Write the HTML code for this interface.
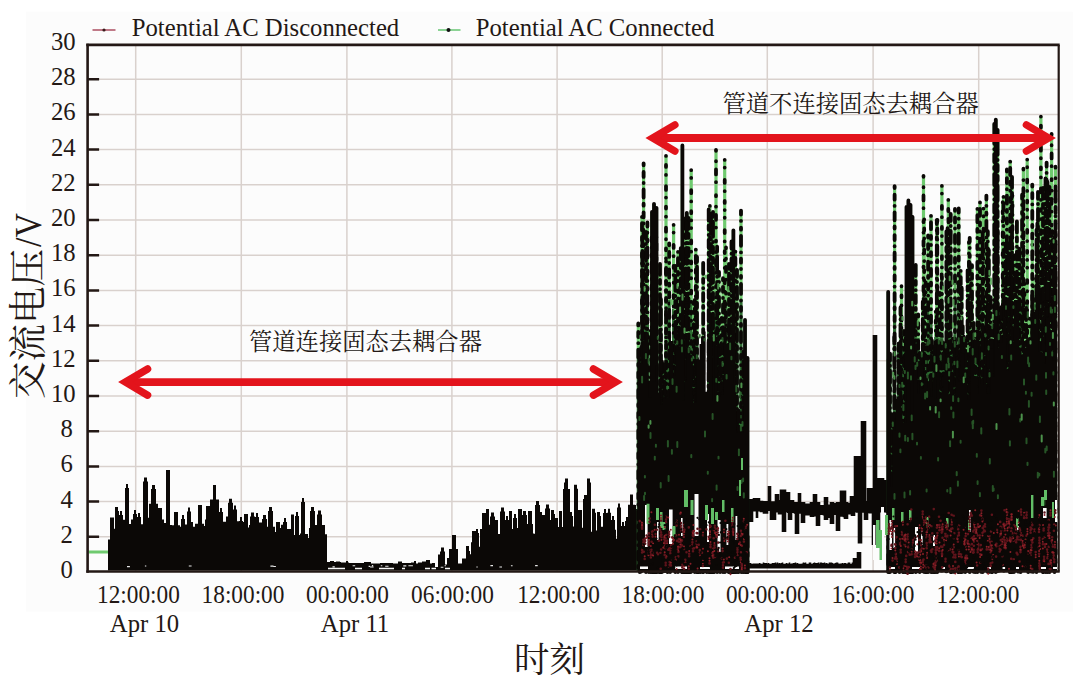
<!DOCTYPE html>
<html><head><meta charset="utf-8"><title>chart</title>
<style>
html,body{margin:0;padding:0;background:#fff;}
body{width:1080px;height:685px;overflow:hidden;}
svg{display:block;position:absolute;left:0;top:0;}
text{font-family:"Liberation Serif",serif;fill:#231815;}
text.cjk{font-family:"Liberation Serif","Noto Serif CJK SC",serif;}
</style></head><body>
<svg width="1080" height="685" viewBox="0 0 1080 685">
<rect x="25.8" y="11.7" width="1047" height="600" fill="#fcfcfc"/>
<path d="M135.7 44.9V571.5M241.3 44.9V571.5M346.9 44.9V571.5M451.9 44.9V571.5M557.1 44.9V571.5M662.2 44.9V571.5M767.3 44.9V571.5M873.1 44.9V571.5M978.7 44.9V571.5M87.6 536.8H1058.7M87.6 501.6H1058.7M87.6 466.4H1058.7M87.6 431.2H1058.7M87.6 396.0H1058.7M87.6 360.8H1058.7M87.6 325.6H1058.7M87.6 290.4H1058.7M87.6 255.2H1058.7M87.6 220.0H1058.7M87.6 184.8H1058.7M87.6 149.6H1058.7M87.6 114.4H1058.7M87.6 79.2H1058.7" stroke="#d9d1cd" stroke-width="1.5" fill="none"/>
<path d="M88.5 552H108.5" stroke="#6fca6f" stroke-width="3"/>
<path d="M108 570.6V539.4H110V517.5H114V528.8H115V507H118V511H119V515H120V511H122V515H123V519.8H125V488H126V484H128V488H129V523.9H131V519.5H133V514H134V510H136V514H137V517H138V513H140V517H141V524.3H143V481.5H144V477.5H147V481.5H148V517.8H149V503.7H151V489H152V485H155V489H156V503.7H158V508H162V519.5H164V523H166V470H170V524.9H172V525.2H174V512H178V525.2H180V526.7H181V519H182V515H184V519H185V524.5H187V511.5H188V507.5H190V511.5H191V522H193V526.7H195V523.8H198V505H202V523.8H204V526.1H205V519.4H206V506H210V499.5H213V485H216V499.5H219V512H220V508H222V512H223V521.7H226V516.4H228V502.7H229V498.7H232V502.7H233V509.5H234V505.5H236V509.5H237V521.2H239V521H240V517H242V521H243V521.9H244V514H248V527.4H249V525H250V516.5H251V512.5H254V516.5H255V517H256V513H258V517H259V522.5H262V519H263V515H266V519H267V526.7H268V511H269V507H272V511H273V526.7H275V532.1H276V522H280V528.1H281V524.7H283V522H284V518H286V522H287V528.9H291V514.5H294V535H295V516H296V512H298V516H299V535H300V533.5H301V502H302V498H304V502H305V534H308V538.1H309V528.1H310V511H311V507H314V511H315V524.9H317V514.5H318V510.5H321V514.5H322V524.9H325V534.3H327V562H330V561H334V562H336V561.5H340V562H341V562.5H346V561H348V562.5H349V563H364V562H371V563.5H380V563H393V563.5H398V561.5H402V563H411V562.5H414V561H416V563.5H418V562.5H422V561.5H426V560H430V563.5H432V563.1H435V567.1H438V554.4H440V551.5H441V547.5H444V551.5H445V564.5H447V558H449V549.1H452V535H456V549.1H458V563.6H462V558.6H466V546H469V550.9H470V554.2H471V542.3H472V531H476V529H478V533H479V546.7H480V529H482V513H486V509H489V524.8H490V516.5H491V512.5H494V516.5H495V520H498V534H500V511.5H501V507.5H504V511.5H505V520H506V516H508V520H509V511H512V528.9H513V518H514V514H516V518H517V527.9H518V509H522V515H523V511H526V515H527V523.9H528V511H532V523.9H533V533.6H534V533.8H535V505H536V501H539V505H540V512H542V515H545V508.5H546V504.5H549V508.5H550V520H551V510H554V514H555V518H558V527.1H559V511H562V527.1H563V489H564V482.5H565V478.5H568V489H570V512H572V516H573V526.6H574V484.8H577V488.8H578V510H582V527.7H583V499H584V495H587V478.5H590V482.5H591V531.7H592V508.7H595V512.7H596V530.6H597V512H600V516H601V526.7H603V513H604V509H606V513H607V512.7H608V508.7H610V512.7H611V520H612V516H614V520H615V529.7H616V538.7H617V507.6H618V503.6H620V507.6H621V526H622V522H624V526H625V521H626V517H628V504.8H630V494.4H633V504.8H635V505H636V509H637V570.6Z" fill="#0b0806"/>
<path d="M749 499V522M750 499V522M751 499V522M752 499V522M753 498.1V511.4M754 498.1V511.4M755 498.1V511.4M756 498.1V518M757 498.1V518M758 498.1V511.4M759 498.1V511.4M760 500.7V512.2M761 500.7V512.2M762 500.7V512.2M763 500.9V513.7M764 500.9V513.7M765 500.9V513.7M766 500.9V513.7M767 500.9V513.7M768 486V511M769 486V511M770 486V520M771 501.3V520M772 501.3V520M773 501.3V520M774 501.3V520M775 494V520M776 494V512.5M777 494V512.5M778 494V514.5M779 500V514.5M780 489.5V514.5M781 489.5V514.5M782 489.5V532M783 489.5V532M784 489.5V532M785 489.5V532M786 492V511.9M787 492V513M788 492V520M789 492V520M790 500V520M791 500V520M792 500V513M793 500V513M794 502V513.8M795 502V534M796 502V534M797 502V534M798 493V534M799 493V513.8M800 493V513.8M801 502V523M802 502V523M803 502V523M804 502V523M805 503.5V515.4M806 503.5V515.4M807 503.5V515.4M808 503.5V515.4M809 503.5V515.4M810 502V517M811 502V517M812 502V517M813 494V517M814 494V516.4M815 494V516.4M816 494V526M817 502V526M818 502V526M819 502V526M820 505V515M821 505V515M822 505V515M823 505V515.4M824 497V520M825 497V520M826 497V520M827 497V520M828 504.6V518.1M829 504.6V518.1M830 502V524M831 502V524M832 502V524M833 502V524M834 503.1V515.1M835 503.1V515.1M836 502V531M837 502V531M838 502V531M839 502V531M840 490.5V516.8M841 490.5V516.8M842 490.5V516.8M843 490.5V517.2M844 490.5V519M845 490.5V519M846 502V519M847 502V519M848 502.8V514.6M849 502.8V514.6M850 496V514.6M851 496V516M852 496V516M853 496V516M854 456V516M855 456V512.3M856 456V512.7M857 456V512.7M858 456V543.5M859 456V543.5M860 456V543.5M861 421V543.5M862 421V512.8M863 421V512.8M864 421V520M865 421V520M866 501V520M867 488V520M868 488V513.2M869 488V513.4M870 488V513.4M871 488V513.4M872 488V545M873 335V545M874 335V545M875 335V545M876 335V530M877 478V530M878 478V530M879 478V530M880 478V512.5M881 478V512.5M882 478V512.5M883 478V512.5M884 480V512.5M885 480V512.5M886 480V512.9M887 498.7V512.9M888 498.7V512.9M889 498.7V512.9M890 498.7V512.9" stroke="#0b0806" stroke-width="1.6" transform="translate(0.5 0)"/>
<path d="M749 563V568.6M750 563V568.6M751 563.8V568.6M752 563.8V568.6M753 563.4V568.6M754 563.4V568.6M755 563.4V568.6M756 563.4V568.6M757 563.4V568.6M758 563.8V568.6M759 563V568.6M760 563.4V568.6M761 563.8V568.6M762 563.8V568.6M763 562.5V568.6M764 563V568.6M765 563V568.6M766 563V568.6M767 563.8V568.6M768 563V568.6M769 563.8V568.6M770 563.8V568.6M771 563.8V568.6M772 563V568.6M773 563V568.6M774 563V568.6M775 562.5V568.6M776 563.4V568.6M777 562.5V568.6M778 563.4V568.6M779 563V568.6M780 563.4V568.6M781 563V568.6M782 562.5V568.6M783 563.8V568.6M784 563.8V568.6M785 563.8V568.6M786 563V568.6M787 563.4V568.6M788 563.4V568.6M789 562.5V568.6M790 563.8V568.6M791 563.4V568.6M792 563.4V568.6M793 563V568.6M794 563V568.6M795 562.5V568.6M796 563.4V568.6M797 563V568.6M798 563.8V568.6M799 563.8V568.6M800 563.8V568.6M801 563.8V568.6M802 563.4V568.6M803 562.5V568.6M804 563V568.6M805 562.5V568.6M806 563.8V568.6M807 563.8V568.6M808 563.8V568.6M809 562.5V568.6M810 562.5V568.6M811 563.8V568.6M812 563.8V568.6M813 563V568.6M814 562.5V568.6M815 563V568.6M816 563V568.6M817 563V568.6M818 562.5V568.6M819 563.8V568.6M820 562.5V568.6M821 562.5V568.6M822 563V568.6M823 563V568.6M824 562.5V568.6M825 563.4V568.6M826 563V568.6M827 563.4V568.6M828 563.8V568.6M829 562.5V568.6M830 562.5V568.6M831 562.5V568.6M832 563V568.6M833 563.8V568.6M834 563.4V568.6M835 563V568.6M836 562.5V568.6M837 562.5V568.6M838 563.4V568.6M839 563.8V568.6M840 563.4V568.6M841 563.4V568.6M842 563V568.6M843 563.8V568.6M844 563V568.6M845 563V568.6M846 563.8V568.6M847 563.4V568.6M848 562.5V568.6M849 562.5V568.6M850 563.8V568.6M851 563.8V568.6M852 562.5V568.6M853 558V568.6M854 558V568.6M855 558V568.6M856 558V568.6M857 552V568.6M858 552V568.6M859 552V568.6M860 552V568.6" stroke="#0b0806" stroke-width="1.6" transform="translate(0.5 0)"/>
<path d="M403.3 565.9h3M270.4 566.1h3.1M352.6 565.7h2.6M535.1 565.6h2.6M444.6 565.8h1.3M370.1 567h3.5M476.4 567h1.3M368.6 566.4h1.5M127 566.6h2.9M408.4 565.7h2.8M385.2 566.2h3.3M371.9 565.6h1.3M490.4 565.6h2.6M188.8 566h2.8M440.7 567.3h2.7M332.5 566.9h2.3M410.6 565.8h2.3M499.4 567h2.6M510.9 565.7h1.7M273.4 566.5h2.5M144.9 566h1.4M380.8 565.8h1.5" stroke="#e8e8e8" stroke-width="1.1"/>
<path d="M328 568.5H345M355 568.5H362M379 568.5H394M402 568.5H405M425 568.5H430M431.5 568.5H436M445 568.5H450" stroke="#f6f6f6" stroke-width="1.5"/>
<path d="M643.6 300V572M642 300V572M646 307.7V572M654 300V572M652 311.3V572M656.5 302.5V572M666 300V572M673.6 308.4V572M682.4 300V572M691.2 300V572M686.8 302.6V572M688.5 300V572M703.2 346.6V572M708.7 300V572M711 320.9V572M713 311.4V572M716 300V572M724.7 300V572M733.4 333.7V572M741 300V572M660 350.1V572M678 315.5V572M697 345.2V572M729 344.4V572M737 342.4V572M745 356.5V572M747.5 358V572M638.3 349.9V572M639.7 400.6V572M641.1 348.1V572M642.4 316.7V572M644 344.7V572M645.6 346.4V572M647.4 317.8V572M648.9 382.5V572M650.8 347.3V572M651.7 341.7V572M653.7 444.8V572M654.9 333.9V572M656.4 300V572M657.8 433.6V572M658.9 414.7V572M660.9 330V572M662 361.9V572M663.3 434.3V572M664.3 364.7V572M666.1 353.9V572M667.5 440.8V572M669.2 300V572M670.1 407.2V572M671.3 404V572M673.3 348.4V572M675.3 327.7V572M676.5 343.9V572M677.7 349.4V572M679 341.6V572M680.8 337.8V572M681.9 418.3V572M683.6 342.9V572M684.7 431.6V572M685.7 300V572M687.6 350.3V572M689 413.3V572M690.1 368V572M691.5 360.4V572M692.7 413.7V572M693.7 331.8V572M694.8 336.4V572M695.8 314.7V572M697.4 368.5V572M699 418.8V572M700.6 425.1V572M702.1 373V572M703 354.8V572M704.8 414.7V572M706.7 402.3V572M708.6 347.7V572M709.9 300V572M711.5 444.6V572M712.8 377.1V572M714.2 355.7V572M715.1 347.1V572M717.1 313.9V572M719 323.3V572M720.1 356.5V572M721.7 353V572M723 338.6V572M724.9 335V572M726 306.4V572M727.7 424.3V572M728.7 338.7V572M730.1 351.5V572M731.5 318.5V572M732.4 391V572M734 366.9V572M735.4 318.9V572M737.2 438.3V572M738.6 410.8V572M740.5 432.9V572M741.7 454.9V572M743.4 351.9V572M744.9 531.7V572M746.2 509V572M747.6 536.5V572" stroke="#2e6e33" stroke-width="3.2" fill="none"/>
<path d="M643.6 163.5V300M642 217V300M646 232V307.7M654 204V300M652 212V311.3M656.5 208V302.5M666 156V300M673.6 225V308.4M682.4 145.6V300M691.2 170.3V300M686.8 213V302.6M688.5 218V300M703.2 263V346.6M708.7 209.7V300M711 214V320.9M713 212V311.4M716 150V300M724.7 160V300M733.4 230.5V333.7M741 210.8V300M660 264V350.1M678 252V315.5M697 257V345.2M729 264V344.4M737 270V342.4M745 320V356.5M638.3 323.6V349.9M642.4 241.2V316.7M647.4 222.7V317.8M650.8 330.8V347.3M651.7 237.5V341.7M654.9 269.9V333.9M656.4 237.4V300M660.9 299.4V330M666.1 261.7V353.9M669.2 243.5V300M675.3 266.1V327.7M676.5 281.1V343.9M679 321.1V341.6M680.8 248.3V337.8M683.6 257.3V342.9M685.7 218.3V300M687.6 276.7V350.3M693.7 304.1V331.8M694.8 300.2V336.4M695.8 249.8V314.7M703 337.7V354.8M708.6 342.4V347.7M709.9 206.1V300M714.2 334V355.7M717.1 246.8V313.9M719 272V323.3M720.1 349.9V356.5M721.7 318V353M723 278.4V338.6M724.9 303.2V335M726 247.5V306.4M728.7 327.7V338.7M730.1 340.4V351.5M731.5 241.7V318.5M735.4 251.8V318.9" stroke="#6fca6f" stroke-width="3.2" fill="none"/>
<path d="M666 155.8V572" stroke="#0b0806" stroke-width="3.7" stroke-linecap="round" stroke-dasharray="0.1 9 2 8 0.1 11 4 7.5" fill="none"/>
<path d="M673.6 224.8V572M691.2 170.1V572M724.7 159.8V572M676.5 280.9V572M693.7 303.9V572M709.9 205.9V572" stroke="#0b0806" stroke-width="3.7" stroke-linecap="round" stroke-dasharray="0.1 7.6 0.1 12.3 3 8.2 0.1 9.7 2 7.1" fill="none"/>
<path d="M716 149.8V572M654.9 269.7V572M726 247.3V572" stroke="#0b0806" stroke-width="3.7" stroke-linecap="round" stroke-dasharray="1 10.4 0.1 8.1 5 7.7 0.1 13" fill="none"/>
<path d="M643.6 163.3V572M638.3 323.4V572M645.6 346.2V572M657.8 433.4V572M669.2 243.3V572M673.3 348.2V572M694.8 300V572M723 278.2V572M746.2 508.8V572" stroke="#0b0806" stroke-width="3.8" stroke-linecap="round" stroke-dasharray="2 6.6 5 6.1 0.1 6.4 8 6.2" fill="none"/>
<path d="M642 216.8V572M678 251.8V572M650.8 330.6V572M656.4 237.2V572M666.1 261.5V572M679 320.9V572M691.5 360.2V572M695.8 249.6V572M735.4 251.6V572" stroke="#0b0806" stroke-width="3.8" stroke-linecap="round" stroke-dasharray="0.1 6.3 7 6.7 3 6 0.1 7.1 4 6.4" fill="none"/>
<path d="M741 210.6V572M647.4 222.5V572M651.7 237.3V572M663.3 434.1V572M687.6 276.5V572M692.7 413.5V572M700.6 424.9V572M702.1 372.8V572M706.7 402.1V572M719 271.8V572M721.7 317.8V572M724.9 303V572M728.7 327.5V572M737.2 438.1V572" stroke="#0b0806" stroke-width="3.8" stroke-linecap="round" stroke-dasharray="4 6.2 0.1 6.8 2 6.1 10 6.5 0.1 6.3" fill="none"/>
<path d="M646 231.8V572M737 269.8V572M641.1 347.9V572M644 344.5V572M664.3 364.5V572M667.5 440.6V572M671.3 403.8V572M677.7 349.2V572M681.9 418.1V572M683.6 257.1V572M697.4 368.3V572M699 418.6V572M704.8 414.5V572M712.8 376.9V572M715.1 346.9V572M731.5 241.5V572M734 366.7V572M744.9 531.5V572" stroke="#0b0806" stroke-width="3.8" stroke-linecap="round" stroke-dasharray="7 5.1 0.1 4.9 12 5.2 3 5" fill="none"/>
<path d="M688.5 217.8V572M703.2 262.8V572M708.7 209.5V572M711 213.8V572M660 263.8V572M658.9 414.5V572M662 361.7V572M680.8 248.1V572M685.7 218.1V572M690.1 367.8V572M708.6 342.2V572M727.7 424.1V572M732.4 390.8V572M738.6 410.6V572M740.5 432.7V572M747.6 536.3V572" stroke="#0b0806" stroke-width="3.8" stroke-linecap="round" stroke-dasharray="11 5 4 5.3 0.1 4.9 8 4.8 2 5.2" fill="none"/>
<path d="M686.8 212.8V572M713 211.8V572M697 256.8V572M729 263.8V572M642.4 241V572M653.7 444.6V572M660.9 299.2V572M675.3 265.9V572M703 337.5V572M711.5 444.4V572M717.1 246.6V572M720.1 349.7V572M743.4 351.7V572" stroke="#0b0806" stroke-width="3.8" stroke-linecap="round" stroke-dasharray="5 4.9 15 5.2 0.1 5 6 4.8" fill="none"/>
<path d="M654 203.8V572M652 211.8V572M656.5 207.8V572M682.4 145.4V572M733.4 230.3V572M745 319.8V572M747.5 357.8V572M639.7 400.4V572M648.9 382.3V572M670.1 407V572M684.7 431.4V572M689 413.1V572M714.2 333.8V572M730.1 340.2V572M741.7 454.7V572" stroke="#0b0806" stroke-width="3.8" stroke-linecap="round" fill="none"/>
<path d="M637.5 570.6V350H640.2V364H642.1V340.6H645.3V332.6H648.6V397.7H652V381.4H655.7V365.8H657.9V392.5H660.3V404.7H662.4V398.5H665.2V398.1H669.1V332.3H670.9V340.9H673.2V375.6H675.4V346.9H679.2V331.4H682V400.8H684.1V381.5H686.8V334.9H688.6V354.4H692.5V402.5H696.1V359.4H699.5V344H701.4V336.7H704V331.6H705.6V391.7H709.2V331H712.1V401H714.6V345.3H717.8V396.8H720.8V394.5H723.8V339H726.3V343.8H730V369H733.1V383.1H736.1V432.2H739.5V432.5H743.4V404.6H745.5V446H748.2V436H748.5V570.6Z" fill="#0b0806"/>
<path d="M705 431.4v5.1M738.9 449.6v5.7M642.1 376.7v5.7M707.8 471.7v2M688.7 348.3v3.9M699.8 335.1v2.5M668.6 476v4.9M655.9 444.7v2.1M704.4 339v1.5M731.4 356.8v2.5M743.1 478.4v2.8M740.9 425.9v4.6M660.7 482.9v4.6M741.5 480.3v2.8M677.3 341.5v2.2M645.9 354v4.2M639.4 417v3M671.9 450.1v3.7M672.5 379.2v4.7M645 492.7v1.6M718.5 456.8v1.6M722.5 362v4.1M640 335.7v2.3M740.2 392.3v4.9M737.5 487v3M676.6 386.7v5M650.5 432.9v5.1M730.1 343.4v5.8M648.7 358.8v4.2M736.3 385.7v5.7M696.8 355.3v2.9M657.8 336.7v2.2M712.1 499v2.2M644.1 496.1v3.9M682 347.4v4.2M726.6 375.1v3.4M644.9 475.9v1.6M691.3 455.1v2.1M716.6 485.4v4.3M722.5 337.9v3.5M654.8 456.8v2.8M687 499.8v5.3M742.5 422v3.7M716.3 378.9v2.8M681.8 340.2v3.2M743.8 493.2v4.3M691.9 358.5v1.9M667.9 441v5.4M677.3 442v5M712.6 414v4.9" stroke="#2b622d" stroke-width="2" stroke-linecap="round" fill="none" opacity="0.85"/>
<path d="M648.6 425.6v2.2M717.4 395.9v4.9M671 300.1v4.7M741.4 383.4v3.9M680.1 307.5v4.7M684.5 328.4v4.3M706 275.5v2.5M713.8 335.1v5.3M644.6 286.9v3.8M718.2 283.7v4.9M682.5 294.5v5.2M650.4 420.9v2.9M677.4 284.4v3.6M728.3 286.9v4" stroke="#58aa58" stroke-width="2" stroke-linecap="round" fill="none" opacity="0.85"/>
<path d="M645 505h2.6V547h-2.6ZM669 509.5h3.6V544h-3.6ZM694.5 494h4V536h-4ZM657 522h1.6V540h-1.6ZM681 518h1.6V536h-1.6ZM707 514h2V542h-2ZM717.5 520h3V552h-3ZM726.5 524h1.8V545h-1.8ZM735.5 516h1.8V540h-1.8ZM640 566.5h8V569h-8ZM675 566.5h12V569h-12ZM700 567h10V569h-10ZM725 566.5h14V569h-14Z" fill="#fcfcfc"/>
<path d="M646.5 503.7h3V523.8h-3ZM656 508h3V520h-3ZM660 512h2.5V528h-2.5ZM684 490h4V507h-4ZM690.5 500h3V515h-3ZM662.5 522h3V530h-3ZM672.5 526h3V537h-3ZM705 505h3V520h-3ZM711 508h3V524h-3ZM715 512h3V520h-3ZM722 500h2.5V512h-2.5ZM731 508h2.5V522h-2.5ZM739 480h2V496h-2ZM741 458h2V470h-2Z" fill="#62bd66"/>
<path d="M639.8 521.1h0M642.1 523.5h0M642.1 526.1h0M642.1 528.7h0M651.4 549.7h0M651.4 552.3h0M678.3 556.4h0M710.7 526.2h0M660.7 568.8h0M718.1 542.6h0M667.2 540.7h0M744.9 568.2h0M740.5 557.7h0M669.5 548.3h0M660.6 536.1h0M660.4 552.7h0M692.8 535.6h0M702.9 566h0M721.9 558.6h0M702 552.8h0M741.7 564h0M741.7 566.6h0M693.4 531h0M693.4 536.2h0M661.1 549.5h0M642.1 549.9h0M642.1 552.5h0M715 527.5h0M715 530.1h0M715 532.7h0M676.2 535.2h0M665.6 538.2h0M665.6 540.8h0M665.6 543.4h0M684 529.9h0M668.2 549.7h0M697.5 528.8h0M737.3 533.7h0M737.3 538.9h0M643.8 551.8h0M645.2 538.5h0M645.2 541.1h0M645.2 543.7h0M643.4 539.8h0M643.4 542.4h0M643.4 545h0M689.2 553.7h0M689.2 556.3h0M684.1 563.9h0M684.1 569.1h0M682.3 564.8h0M682.3 567.4h0M652.1 531.8h0M723 562.6h0M723 565.2h0M723 567.8h0M672.3 537.4h0M648.8 539.9h0M648.8 542.5h0M648.8 545.1h0M655.5 534.1h0M651.6 541.7h0M703 535.2h0M697.6 571.2h0M656.8 529.8h0M743.9 541.6h0M660.3 529.8h0M737.3 547.5h0M726.9 558.6h0M678.9 539.1h0M678.9 541.7h0M649 533.4h0M697.6 533.2h0M665.7 562.7h0M665.7 565.3h0M746.7 552.3h0M669.1 531.7h0M669.1 534.3h0M669.1 536.9h0M663.9 545.8h0M716.6 536.9h0M696.7 541.3h0M696.7 543.9h0M741.9 565.3h0M741.9 570.5h0M664.7 554.9h0M648 537.3h0M713.2 555h0M713.2 557.6h0M682 540.2h0M682 542.8h0M682 545.4h0M680.4 547.1h0M742 535.4h0M666.1 516.9h0M666.1 519.5h0M666.1 522.1h0M649.6 518.5h0M700.2 529.2h0M646.6 535.5h0M730.5 569h0M730.5 571.6h0M728.8 562.7h0M681.3 528.5h0M681.3 531.1h0M670.3 550.6h0M670.3 553.2h0M654.9 524.7h0M675.8 557.2h0M675.8 559.8h0M733.1 531.3h0M713 548.9h0M710.1 537.2h0M671.1 545.2h0M671.1 547.8h0M677 540.9h0M728.1 534h0M728.1 536.6h0M709.5 563.4h0M714.9 525.7h0M714.9 528.3h0M737.7 534h0M680.4 541.8h0M648.9 536.8h0M733 528.8h0M733 531.4h0M708.5 536.7h0M718.2 548.6h0M718.2 551.2h0M727.9 539h0M712.4 553.1h0M724.3 538.3h0M665.1 548.2h0M692.4 542.2h0M692.4 544.8h0M669.7 562.1h0M669.7 564.7h0M666 557.4h0M658.8 540.7h0M644.7 558.9h0M737.5 549.7h0M737.5 552.3h0M737.5 554.9h0M664.7 538.4h0M664.7 541h0M648.4 550.1h0M676.6 571.5h0M652.6 552.7h0M715.3 527.9h0M725.4 520.8h0M648.8 538h0M648.8 540.6h0M648.8 543.2h0M666.2 534.7h0M717.7 530h0M717.7 532.6h0M740.9 552.3h0M680.3 513.6h0M649.5 521.7h0M676.6 523h0M676.6 525.6h0M693 548.6h0M693 551.2h0M743.8 521.3h0M723.8 562.2h0M722.6 551.1h0M740.8 559.7h0M670.9 565.4h0M714.6 547.6h0M661.5 534.7h0M661.5 537.3h0M688.8 568.8h0M661 532.4h0M661 535h0M709.9 525.5h0M709.9 530.7h0M698.7 544.8h0M661 520.6h0M664.3 539.5h0M664.3 542.1h0M652.6 531.4h0M652.6 536.6h0M685.3 559.9h0M685.3 562.5h0M688.8 527.4h0M714.5 545.3h0M681 523.1h0M681 525.7h0M681 528.3h0M741.9 545.8h0M740.9 530.7h0M740.9 535.9h0M692.9 531.9h0M692.9 534.5h0M745.9 526.6h0M745.9 529.2h0M694.1 548.3h0M715 556.9h0M658 554.2h0M684 549h0M739.9 542.6h0M699.8 550h0M699.8 552.6h0M733.3 529.7h0M713.7 538.3h0M673 541.2h0M684.5 529.8h0M678 549.4h0M715.5 529.1h0M715.5 531.7h0M735 557.8h0M696.6 533.1h0M725.9 538.4h0M732.4 522.8h0M732.4 525.4h0M717.9 528.5h0M706.4 529.4h0M657.1 552.8h0M642 527.5h0M683.8 537h0M686.5 552.3h0M650.8 552.3h0M650.8 554.9h0M650.8 557.5h0M710.5 544.5h0M710.5 547.1h0M678.4 546.8h0M678.4 549.4h0M678.4 552h0" stroke="#5f141b" stroke-width="2.6" stroke-linecap="round" fill="none"/>
<path d="M650.8 545.9h0M696.4 547.4h0M667.2 543.3h0M667.2 545.9h0M744.9 565.6h0M738.9 544.1h0M651.4 512.3h0M692.8 533h0M702.9 560.8h0M702.9 563.4h0M732.8 517.8h0M741.7 569.2h0M693.4 533.6h0M679 534.7h0M713.7 530.3h0M716 532.1h0M716 534.7h0M684 524.7h0M684 527.3h0M682.5 531.9h0M737.3 536.3h0M680.8 540.2h0M742.6 534.1h0M690.1 545.9h0M728.7 534.5h0M689.2 551.1h0M684.1 566.5h0M724 529.6h0M724 532.2h0M652.1 534.4h0M666.8 555.7h0M655.5 536.7h0M703 532.6h0M697.6 568.6h0M743.9 539h0M660.3 527.2h0M653.3 555.6h0M703 548.8h0M664.8 527.2h0M663.9 543.2h0M696.7 546.5h0M741.9 567.9h0M664.7 552.3h0M668.4 566.8h0M646.6 538.1h0M678.8 550.6h0M730.5 574.2h0M663.2 547.8h0M654.6 529.8h0M653.1 543.6h0M733.1 533.9h0M713 551.5h0M710.1 532h0M710.1 534.6h0M728.1 531.4h0M709.5 558.2h0M709.5 560.8h0M728.8 531.7h0M680.4 539.2h0M680.4 544.4h0M648.9 539.4h0M694.2 530.8h0M717.1 535.1h0M727.9 541.6h0M693.4 525.1h0M712.4 555.7h0M724.3 540.9h0M729.2 557.3h0M692.4 539.6h0M644.7 556.3h0M670.8 529.7h0M714.3 550.9h0M664.7 535.8h0M648.4 552.7h0M648.4 555.3h0M676.6 568.9h0M652.6 555.3h0M715.3 530.5h0M715.3 533.1h0M708.3 538.9h0M684.3 532.1h0M717.7 527.4h0M697.3 547.6h0M680.8 512.4h0M676.6 520.4h0M707.9 551.3h0M743.8 518.7h0M723.8 559.6h0M722.6 548.5h0M740.8 562.3h0M668.2 517.6h0M670.9 560.2h0M670.9 562.8h0M661.5 539.9h0M688.8 566.2h0M709.9 528.1h0M661 515.4h0M661 518h0M664.3 536.9h0M747.2 524.7h0M652.6 534h0M714.4 542.9h0M740.9 533.3h0M684 546.4h0M690.5 563.8h0M699.8 555.2h0M733.3 532.3h0M733.3 534.9h0M673 538.6h0M673 543.8h0M678 546.8h0M712.9 551.5h0M674 540h0M732.4 520.2h0M740.7 545.1h0M642 522.3h0M642 524.9h0M683.8 534.4h0M710.5 541.9h0" stroke="#8c2028" stroke-width="2.0" stroke-linecap="round" fill="none"/>
<path d="M693.9 545.2h0M643.5 532h0M686.5 564.3h0M744.6 521.6h0M685 526.9h0M683.6 548.4h0M718.7 547.8h0M706.3 548h0M658.4 526.9h0M692.4 520.8h0M679.9 549.8h0M733.8 568.2h0M701.3 524.5h0M700.7 552.7h0M662.3 560.5h0M659.4 551h0M741.9 561.7h0M720.8 532.3h0M683.8 563.8h0M692 527.7h0M675.4 520.8h0M742.8 536.9h0M691 520.2h0M706.6 525.2h0M660.6 557.5h0M691.2 546.3h0M668 520.9h0M674.8 537.1h0M735.9 554.6h0M688.5 545.9h0M715.3 556.2h0M721.2 532h0M681.5 532h0M679.6 560.3h0M687.5 519.4h0M718.9 534.9h0M716.1 565h0M736.9 546.5h0M640.3 564.7h0M643.8 544.4h0M642.4 520.6h0M732.1 552.7h0M705.6 526.7h0M665.4 532.8h0M726.4 529.2h0M702.2 561.8h0M648.9 538.2h0M665.6 547.7h0M674.3 567.5h0M674.5 562.2h0M682.5 543.1h0M720 555.3h0M710.3 529.2h0M687.9 520.9h0M662.6 541.3h0M735.5 562.5h0M667.4 554.8h0M745.9 553.1h0M732.9 540.6h0M726.1 549.2h0M697.7 541.1h0M702.5 543.7h0M699.3 519.3h0M716.7 526.7h0M650.5 564.2h0M728.9 559.1h0M684.9 525h0M679.5 523.6h0M687.1 530.2h0M685.4 564.2h0M741.3 525.1h0M703.6 562.2h0M745.3 545.4h0M720.5 523h0M671.3 555.4h0M734.3 524h0M732.2 561.3h0M648.3 549.9h0M670.8 560.2h0M680.2 564.1h0M716.1 530.7h0M692.1 546.6h0M683.7 561h0M652.8 563.5h0M739.8 533.2h0M712.5 550.1h0M737.6 526h0M731.7 556.3h0M720.1 542.5h0M697.5 517.8h0M652.4 552.7h0M736.4 557.5h0M653.4 533.7h0M700.6 541.9h0M729.2 552.5h0M735.9 562.6h0M722.3 558.6h0M742 527.8h0M684.9 564.7h0M674.7 535.3h0M648.4 552.2h0M733.1 526.7h0M664.6 525.2h0M729.7 528h0M734.9 566.8h0M709.5 566.2h0M734 543.2h0M702.4 524.3h0M736.2 565.9h0M649.8 528.1h0M648.8 553.7h0M665 517h0M746.1 529.9h0M698.6 554.7h0M738.9 517.5h0M650.5 535.4h0M704.6 559.8h0M735.2 564.3h0M713.8 529.4h0M734.2 552.3h0M704.8 531.3h0M667.9 566.6h0M697.1 542.9h0M665.1 530.3h0M655 556.1h0M704.7 535.2h0M671.6 546.9h0M675.2 561.1h0M744.8 537.9h0M725.2 537.9h0M747.4 532.9h0M718.1 549.8h0M744.6 525.4h0M666.3 545.4h0M727.9 552.3h0M662.9 544.9h0M726.5 563.7h0M703.8 543.3h0M668 546.2h0M676.9 557.6h0M736.5 559.4h0M653 564.2h0M641.6 562h0M666.2 524.9h0M656.5 538.6h0M708.8 522.3h0M643 534.1h0M701.3 531.3h0M659.3 524.4h0M657.9 567.9h0M703.3 520h0M727.4 537.3h0M707.2 543.7h0M652.9 545.1h0M676.6 565.4h0M681.2 529.3h0M676.6 523.4h0M643 547.9h0M739.1 553.7h0M675.8 520.4h0" stroke="#0b0806" stroke-width="2.2" stroke-linecap="round" fill="none"/>
<path d="M888.2 358.4V572M894.6 300V572M906.5 300V572M908.4 300V572M910.5 300V572M912.5 300V572M923.5 300V572M931 322.7V572M937.3 300V572M941.9 300V572M948.3 300V572M955 300V572M958.7 300V572M969.7 316.2V572M977.4 300V572M983.5 305.5V572M994.3 300V572M995.8 300V572M997.6 300V572M1003.5 300V572M1010.2 300V572M1012 300V572M1023.4 300V572M1032.3 300V572M1040.9 300V572M1045.5 300V572M1047.5 300V572M1051.6 300V572M1055.5 300V572M1043 300V572M1038 300V572M1049.5 300V572M888.3 529.6V572M889.1 381.1V572M890 353.8V572M891.5 499.7V572M892.7 414.5V572M894.3 351.5V572M895.7 427.9V572M897.1 478V572M898.5 351.9V572M899.5 381.7V572M900.5 345.7V572M901.5 331.3V572M902.9 467.5V572M904 348.5V572M905.7 338.4V572M906.6 406.4V572M907.6 357.1V572M908.5 355.9V572M909.4 358.8V572M910.9 456.9V572M912.2 459.8V572M913 391.1V572M913.9 334.3V572M915.7 326.8V572M917.1 365.1V572M918.2 337.6V572M919.7 353V572M921.4 356.9V572M922.8 359.8V572M924.2 310.9V572M925.6 348.7V572M926.7 418.3V572M928.1 308.2V572M929.7 430.2V572M930.9 363V572M931.9 340.7V572M933.5 418.5V572M934.8 346.3V572M935.7 336.4V572M936.8 312.7V572M938.3 347.7V572M939.8 347.4V572M941.6 344.4V572M943.3 357.6V572M944.6 350.7V572M946.4 300V572M947.6 300V572M948.5 310.1V572M949.5 429.2V572M950.7 316.9V572M951.7 373.5V572M952.9 338.8V572M954.3 345.7V572M956.1 396.2V572M957 346.5V572M958.3 347.3V572M959.9 358.8V572M960.7 322.9V572M961.7 351.7V572M962.7 358.8V572M963.9 336.9V572M965.2 351.6V572M966.3 422.7V572M967.6 334.8V572M968.9 326V572M969.8 357.6V572M971.2 347.3V572M972 333.5V572M973.6 356.9V572M975.3 350.4V572M977 425.1V572M978.8 347.5V572M980 300V572M981.2 410.2V572M982.7 300V572M984.3 335.1V572M985.5 351.1V572M986.4 300V572M987.8 323.8V572M988.8 300V572M990.6 345.3V572M991.4 350V572M992.3 342.4V572M994.1 358.9V572M995 357.4V572M996.7 300V572M997.6 310.2V572M999.4 356.4V572M1001.1 345.7V572M1002.7 300V572M1004.2 359.2V572M1005.6 328.9V572M1006.9 300V572M1008.5 306.3V572M1009.8 383.7V572M1010.7 300V572M1011.5 300V572M1012.5 300V572M1013.9 323.2V572M1015.2 349.8V572M1016.9 300V572M1018.4 382.7V572M1019.3 300V572M1020.6 392.2V572M1022.1 300V572M1023.4 300V572M1024.5 350.3V572M1026.1 346.7V572M1027.2 300V572M1028.2 349.8V572M1029.5 349.5V572M1031.1 361.8V572M1032.3 345.5V572M1033.1 345.4V572M1033.9 345.7V572M1034.8 336.3V572M1036.5 309.4V572M1037.4 309.3V572M1038.8 346.8V572M1040.2 370.3V572M1041.6 331.9V572M1043.2 354.9V572M1044.1 326.2V572M1045.7 338.8V572M1046.6 300V572M1047.9 346.9V572M1049.5 317.3V572M1051.3 355.4V572M1052.5 300V572M1053.7 336.1V572M1054.5 308.4V572M1055.5 300V572" stroke="#2e6e33" stroke-width="3.2" fill="none"/>
<path d="M888.2 292V358.4M894.6 186.3V300M906.5 207V300M908.4 200.7V300M910.5 205V300M912.5 217V300M923.5 176V300M931 216V322.7M937.3 220V300M941.9 186V300M948.3 200V300M955 209V300M958.7 208.7V300M969.7 238V316.2M977.4 209V300M983.5 208.7V305.5M994.3 124V300M995.8 119.8V300M997.6 130V300M1003.5 197V300M1010.2 161.8V300M1012 177V300M1023.4 168.8V300M1032.3 184.8V300M1040.9 116.7V300M1045.5 178.6V300M1047.5 182V300M1051.6 134V300M1055.5 191V300M1043 188V300M1038 192V300M1049.5 187V300M894.3 337V351.5M898.5 343.9V351.9M900.5 307.6V345.7M901.5 286.4V331.3M904 331V348.5M907.6 354.8V357.1M908.5 314.8V355.9M909.4 315.1V358.8M913.9 320.7V334.3M915.7 265V326.8M918.2 314.7V337.6M922.8 301.9V359.8M924.2 219.5V310.9M925.6 282.3V348.7M928.1 235.7V308.2M935.7 311.8V336.4M936.8 220.3V312.7M938.3 343.4V347.7M939.8 293.2V347.4M941.6 274.5V344.4M943.3 343.4V357.6M944.6 343.4V350.7M946.4 231.5V300M947.6 228.3V300M948.5 211.4V310.1M950.7 214.1V316.9M959.9 326V358.8M960.7 271V322.9M961.7 287.9V351.7M962.7 326.6V358.8M965.2 340.9V351.6M967.6 270.5V334.8M968.9 242.2V326M969.8 349.8V357.6M971.2 283.3V347.3M972 265.4V333.5M973.6 323.2V356.9M975.3 332V350.4M978.8 287.5V347.5M980 202.6V300M982.7 233V300M984.3 297.2V335.1M985.5 342.8V351.1M986.4 195.8V300M987.8 231.4V323.8M988.8 250.1V300M990.6 297.3V345.3M992.3 330.7V342.4M994.1 321.4V358.9M995 347.8V357.4M996.7 180.5V300M997.6 230.5V310.2M999.4 308.6V356.4M1001.1 307.4V345.7M1002.7 202.4V300M1005.6 244.5V328.9M1006.9 169.7V300M1008.5 243.5V306.3M1010.7 237.7V300M1011.5 198.5V300M1012.5 195.9V300M1013.9 255.4V323.2M1015.2 277.3V349.8M1016.9 221.6V300M1019.3 248.8V300M1022.1 194.9V300M1023.4 196.1V300M1024.5 284.1V350.3M1026.1 308.1V346.7M1027.2 159.7V300M1029.5 318.9V349.5M1032.3 295.5V345.5M1033.1 278.7V345.4M1034.8 313.6V336.3M1036.5 230V309.4M1037.4 223.5V309.3M1038.8 286.9V346.8M1041.6 243V331.9M1044.1 259.5V326.2M1045.7 300.8V338.8M1046.6 162.8V300M1049.5 265.8V317.3M1051.3 306.9V355.4M1052.5 231.4V300M1053.7 273.6V336.1M1054.5 237.4V308.4M1055.5 166.9V300" stroke="#6fca6f" stroke-width="3.2" fill="none"/>
<path d="M948.3 199.8V572M1040.9 116.5V572M901.5 286.2V572M924.2 219.3V572M935.7 311.6V572M948.5 211.2V572M984.3 297V572M1002.7 202.2V572M1012.5 195.7V572M1024.5 283.9V572" stroke="#0b0806" stroke-width="3.7" stroke-linecap="round" stroke-dasharray="0.1 9 2 8 0.1 11 4 7.5" fill="none"/>
<path d="M941.9 185.8V572M983.5 208.5V572M1011.5 198.3V572M1027.2 159.5V572M1029.5 318.7V572M1033.1 278.5V572M1044.1 259.3V572" stroke="#0b0806" stroke-width="3.7" stroke-linecap="round" stroke-dasharray="0.1 7.6 0.1 12.3 3 8.2 0.1 9.7 2 7.1" fill="none"/>
<path d="M923.5 175.8V572M1023.4 168.6V572M1051.6 133.8V572M908.5 314.6V572M968.9 242V572M1055.5 166.7V572" stroke="#0b0806" stroke-width="3.7" stroke-linecap="round" stroke-dasharray="1 10.4 0.1 8.1 5 7.7 0.1 13" fill="none"/>
<path d="M894.6 186.1V572M937.3 219.8V572M955 208.8V572M1032.3 184.6V572M909.4 314.9V572M910.9 456.7V572M918.2 314.5V572M928.1 235.5V572M939.8 293V572M941.6 274.3V572M949.5 429V572M971.2 283.1V572M972 265.2V572M995 347.6V572M999.4 308.4V572M1006.9 169.5V572M1045.7 300.6V572M1047.9 346.7V572M1049.5 265.6V572M1051.3 306.7V572M1052.5 231.2V572" stroke="#0b0806" stroke-width="3.8" stroke-linecap="round" stroke-dasharray="2 6.6 5 6.1 0.1 6.4 8 6.2" fill="none"/>
<path d="M931 215.8V572M977.4 208.8V572M1003.5 196.8V572M1010.2 161.6V572M913 390.9V572M913.9 320.5V572M952.9 338.6V572M954.3 345.5V572M956.1 396V572M958.3 347.1V572M960.7 270.8V572M980 202.4V572M994.1 321.2V572M1020.6 392V572M1023.4 195.9V572M1031.1 361.6V572M1041.6 242.8V572" stroke="#0b0806" stroke-width="3.8" stroke-linecap="round" stroke-dasharray="0.1 6.3 7 6.7 3 6 0.1 7.1 4 6.4" fill="none"/>
<path d="M958.7 208.5V572M969.7 237.8V572M888.3 529.4V572M904 330.8V572M925.6 282.1V572M936.8 220.1V572M947.6 228.1V572M959.9 325.8V572M966.3 422.5V572M986.4 195.6V572M987.8 231.2V572M997.6 230.3V572M1004.2 359V572M1013.9 255.2V572M1015.2 277.1V572M1022.1 194.7V572M1046.6 162.6V572" stroke="#0b0806" stroke-width="3.8" stroke-linecap="round" stroke-dasharray="4 6.2 0.1 6.8 2 6.1 10 6.5 0.1 6.3" fill="none"/>
<path d="M1038 191.8V572M1049.5 186.8V572M889.1 380.9V572M890 353.6V572M892.7 414.3V572M894.3 336.8V572M895.7 427.7V572M897.1 477.8V572M898.5 343.7V572M899.5 381.5V572M900.5 307.4V572M912.2 459.6V572M917.1 364.9V572M922.8 301.7V572M929.7 430V572M930.9 362.8V572M931.9 340.5V572M950.7 213.9V572M957 346.3V572M962.7 326.4V572M973.6 323V572M996.7 180.3V572M1005.6 244.3V572M1009.8 383.5V572M1026.1 307.9V572M1033.9 345.5V572M1037.4 223.3V572M1040.2 370.1V572" stroke="#0b0806" stroke-width="3.8" stroke-linecap="round" stroke-dasharray="7 5.1 0.1 4.9 12 5.2 3 5" fill="none"/>
<path d="M994.3 123.8V572M1012 176.8V572M1045.5 178.4V572M1055.5 190.8V572M1043 187.8V572M891.5 499.5V572M905.7 338.2V572M915.7 264.8V572M938.3 343.2V572M944.6 343.2V572M946.4 231.3V572M961.7 287.7V572M967.6 270.3V572M977 424.9V572M981.2 410V572M985.5 342.6V572M990.6 297.1V572M1001.1 307.2V572M1010.7 237.5V572M1016.9 221.4V572M1018.4 382.5V572M1019.3 248.6V572M1032.3 295.3V572M1053.7 273.4V572M1054.5 237.2V572" stroke="#0b0806" stroke-width="3.8" stroke-linecap="round" stroke-dasharray="11 5 4 5.3 0.1 4.9 8 4.8 2 5.2" fill="none"/>
<path d="M997.6 129.8V572M1047.5 181.8V572M906.6 406.2V572M919.7 352.8V572M921.4 356.7V572M933.5 418.3V572M943.3 343.2V572M963.9 336.7V572M965.2 340.7V572M969.8 349.6V572M975.3 331.8V572M978.8 287.3V572M982.7 232.8V572M988.8 249.9V572M992.3 330.5V572M1008.5 243.3V572M1028.2 349.6V572M1034.8 313.4V572M1036.5 229.8V572M1038.8 286.7V572" stroke="#0b0806" stroke-width="3.8" stroke-linecap="round" stroke-dasharray="5 4.9 15 5.2 0.1 5 6 4.8" fill="none"/>
<path d="M888.2 291.8V572M906.5 206.8V572M908.4 200.5V572M910.5 204.8V572M912.5 216.8V572M995.8 119.6V572M902.9 467.3V572M907.6 354.6V572M926.7 418.1V572M934.8 346.1V572M951.7 373.3V572M991.4 349.8V572M1043.2 354.7V572" stroke="#0b0806" stroke-width="3.8" stroke-linecap="round" fill="none"/>
<path d="M887.5 570.6V459.6H890.2V487.1H892.2V430.6H895.8V399H899V420.6H903V422.5H906.9V383.2H910.2V422.3H913.9V354.7H917.7V393.5H919.8V378.9H921.8V388.7H923.8V371.7H925.5V377.2H927.8V388.1H930.4V396.8H932.6V347.7H934.5V398.4H936.1V353.9H939.5V395.1H943.5V372.5H945.5V356.7H948.6V394.3H952.5V395.5H955.6V365H957.5V382.1H961V353.8H964.3V378.5H967.7V399.6H970.7V354H974V377.6H977V393.4H978.8V346.1H980.8V385H983.2V367.6H986.4V393.8H990.4V376.8H994.3V335.8H997.4V349.1H999V342.8H1002.9V305.1H1004.9V317.7H1006.8V370.9H1008.9V343.6H1010.7V341.5H1014V300H1016.8V309.3H1019.1V349.4H1021.3V356.5H1023V347.4H1026.2V324.5H1027.9V339.8H1030.7V315.8H1032.7V317.6H1036.5V303.8H1038.3V351.4H1042V362.6H1044.2V363.8H1045.9V317.4H1048.4V300.6H1050.2V336.1H1052.2V360.3H1055.5V326H1057V570.6Z" fill="#0b0806"/>
<path d="M926.6 489.5v2.1M1006 306.3v2.6M1054.9 307.6v4.4M965.2 373.6v3.7M920.9 456.9v1.9M927.9 342.1v2.7M956.7 472.1v3.2M907.9 372.6v6M899.5 433.6v3.2M998.7 334.6v4.6M971.6 409.5v5.6M985.5 334.2v1.8M1046 352.9v2.4M1046 372.9v4.8M1035.2 319.9v3.1M1034.8 304.4v4.9M905.2 435.8v4.7M1046.7 446.4v3.8M921.8 352.5v3.9M973.6 333.5v5.6M973.2 420.8v2.5M929.5 340.5v3M933.3 373.6v3.2M1027.5 462.7v2.3M954.8 342v4.5M1050.8 307.5v4.9M938.8 338.5v4.9M945.7 343.9v3.5M927.5 374v3.5M958.4 398.4v2.8M904.8 370.9v2M975.5 358.5v5.1M972.8 422.4v5.9M899.5 385v2.1M953.1 396.2v4.8M947.3 489.9v1.5M1027.7 312.2v5.4M894.5 493.9v4.9M1053.4 372.3v2.3M1050 343v1.9M989.5 373v3.6M914.7 357.3v4.1M964.1 337.8v3.5M1009.4 411v3.6M954.4 361.8v2.5M921.8 383.2v2M1009.4 409.1v4.3M892.8 422.6v3.4M904.5 492.6v4.9M972.4 421.7v2.4M927.1 392.1v4.8M996.4 310.9v4.3M1039.9 416.4v5.7M1052 309.7v2.8M979.9 493v3.2M1045.3 448.7v3.8M992.8 486.1v5M938.1 458v2.4M950.4 488v5.3M940.8 355.5v4.3M1028.9 401v5.7M1009.9 441.2v4.2M949.1 371.9v3.7M976.8 454.1v2.7M900.4 449.6v2.7M958.7 338.3v5.2M934.5 356.7v5.1M972.7 348.9v5.5M957.4 361.4v5.8M1020.2 419v2.6M1024 379.4v5.2M950.1 441.2v5.1M953.4 412.4v5M1053.9 471.7v5M911.7 415.6v4.6M903.4 404.9v5.4M1039.3 473.7v1.9M989.8 459.1v4.4M942.1 338.3v5.6M1031.6 392.7v3.1M1026.5 438.4v4.8M988.6 346.6v2.8M948.3 358.5v3.8M907.9 437.9v3.1M915.5 365.7v3.3M960.6 440.8v1.9M926 360.9v2.3M1013.4 306.3v1.7M981.3 428.2v5.2M981.9 353.2v5.5M1011.2 355.4v4M1044.4 499v5.7M911 376.3v3.3M917 442.7v1.8M1036.3 375.5v4.3M957.9 481.6v4.1M1037.8 472.8v4.6M1052.2 352.3v3.1M1029.1 363.3v2.9M1001.9 356v2.1M1028.1 357.5v5.9M977.6 481.3v2.8M925.1 393.5v5M1025.9 391.7v2.1M954.4 336v3.2M1045.8 327.2v4.6M992.2 323.6v4.6M902.2 382.7v4.1M910.1 491v3.4M993.6 488.6v2M1054.8 296v4.2M997.9 495.2v3.1M1046.2 390.5v3.6M917.2 362.7v3.1M946.5 364.5v5.1M951.2 407.2v1.7M912.4 433.7v5.5M941 338.3v2.5M948.8 363.4v4M939.1 412.2v5" stroke="#2b622d" stroke-width="2" stroke-linecap="round" fill="none" opacity="0.85"/>
<path d="M955 283.7v5.6M992.8 314.7v4.6M1030.5 341.3v2.1M1053.6 240.3v2.1M917.8 321.1v4.5M912.2 301.8v3.6M1032 240.7v5.6M930.1 406.9v2.5M1041.7 435.6v5.9M996.5 424v5M893.2 372.8v3.2M952.9 323.2v3.7M952.5 280.6v3.4M940.6 399.6v1.6M911.1 346.6v1.9M936.4 365.2v5.9M949.7 276.6v3.6M948.5 298.5v4.3M953.5 300.1v4.6M975.2 333.2v3M968 345.7v5.8M1021.7 414.6v5.2M894.7 353v2.6M963.7 377.6v4.7M902.4 316.9v2.9M894.3 376.3v2.4M1052.9 333.1v4.9M961.4 317.2v2.1M952.9 431.7v5.8M1010.7 341.2v2.1M1053.8 402.6v2.9M991 278.4v5.5M935.7 406.9v5.6M920.5 377.4v1.7M943.1 286.5v3.3M989.4 270.8v3.9" stroke="#58aa58" stroke-width="2" stroke-linecap="round" fill="none" opacity="0.85"/>
<path d="M881 507h3V562h-3ZM873 525h2.4V560h-2.4ZM889.5 520h2.5V550h-2.5ZM893.5 528h1.6V548h-1.6ZM915 527h3V555h-3ZM921 530h1.6V545h-1.6ZM933 535h2V546h-2ZM969 510h1.6V532h-1.6ZM1043 508h3.6V518h-3.6ZM1055 500h2V522h-2ZM1017 522h2V533h-2ZM889 567h6V569h-6ZM912 567h8V569h-8ZM942 567h3V569h-3ZM967 567h7V569h-7ZM987.5 567h3.5V569h-3.5ZM1002.6 567h2.5V569h-2.5ZM1016 567h3V569h-3ZM1041 567h5V569h-5ZM1053 567h4V569h-4Z" fill="#fcfcfc"/>
<path d="M876 520h3.5V548h-3.5ZM879.5 530h2.5V560h-2.5ZM885 515h3V535h-3ZM892 508h2.5V520h-2.5ZM901 512h2.5V522h-2.5ZM909 510h2.5V520h-2.5ZM926 517h2.5V527h-2.5ZM946 518h2.5V527h-2.5ZM968 520h2V530h-2ZM1016 518h2.5V528h-2.5ZM1031 495h2.4V518h-2.4ZM1041 497h3V506h-3ZM1044 490h3V500h-3ZM1052 502h2V518h-2Z" fill="#62bd66"/>
<path d="M947.4 535.7h0M947.4 538.3h0M991.6 541.9h0M1039 529.4h0M1039 532h0M982.5 532.8h0M928.5 567.6h0M904.9 537.3h0M926.5 537.4h0M1042.9 539.1h0M1042.9 544.3h0M1010.8 540.3h0M930.9 550.5h0M1052.8 546.6h0M974.1 536.4h0M974.1 541.6h0M1039.1 553.7h0M983.9 526.2h0M983.9 528.8h0M983.9 531.4h0M892 521.3h0M892 526.5h0M951.9 519.5h0M978.1 545.2h0M945.9 522.3h0M945.9 524.9h0M936.7 537.1h0M944 544.9h0M936.6 538.3h0M1007.3 538.2h0M1007.3 540.8h0M905.7 559.5h0M905.7 562.1h0M906.7 566.7h0M906.7 569.3h0M1043.6 530.4h0M966.4 547h0M941.7 527.4h0M941.7 530h0M941.7 532.6h0M961.8 557.1h0M1044.8 537h0M974.5 529.6h0M951.6 514.8h0M969.7 517.1h0M969.7 519.7h0M969.7 522.3h0M953.7 547.2h0M917.8 536.3h0M973.2 550.1h0M973.2 552.7h0M1047.4 558.3h0M1021 509.5h0M1021 512.1h0M1021 514.7h0M996.4 543.7h0M996.4 546.3h0M982.7 528h0M967.9 534.1h0M981.4 554.7h0M906.2 555.9h0M1008.9 524.7h0M1008.9 527.3h0M980.5 550.3h0M905.6 541.5h0M942 551h0M942 553.6h0M1039.4 537.7h0M1039.4 540.3h0M1039.4 542.9h0M921.1 542.7h0M921.1 545.3h0M904.6 544.5h0M1020.5 546.9h0M1020.5 552.1h0M1004.5 510.2h0M900.7 549.8h0M900.7 552.4h0M1000.6 549.8h0M1024.8 542.3h0M1024.8 547.5h0M971.9 544h0M971.9 546.6h0M954.3 533.2h0M1050.6 569h0M922.8 560.6h0M907.6 524.2h0M986.7 549.4h0M940.6 520.7h0M981.4 510.6h0M939.4 525h0M939.4 530.2h0M951.7 524.5h0M925.8 517.6h0M925.8 520.2h0M1012.4 533.4h0M1012.4 538.6h0M895.1 544.2h0M891.4 545.8h0M980.2 562.8h0M1030.6 552.6h0M1030.6 555.2h0M1031.5 545h0M1031.5 547.6h0M1045 544.3h0M1045 546.9h0M1038.8 547.3h0M976.7 533.9h0M950.1 549.4h0M947.3 524.7h0M947.3 527.3h0M947.3 529.9h0M931.4 526.3h0M927.1 555.4h0M1047.1 549.6h0M926.6 565.5h0M926.6 568.1h0M920.9 563.7h0M920.9 568.9h0M904.5 566.1h0M953.7 515.7h0M997.3 529.9h0M992.1 548.2h0M919.2 557.2h0M919.2 559.8h0M1016.7 552.9h0M971 514.3h0M958.7 566.6h0M996.1 556.6h0M1020.9 539.9h0M972.9 536.6h0M990.7 563.3h0M990.7 565.9h0M984.2 529.6h0M990.4 552.3h0M921.8 548.5h0M1030.6 527.5h0M1030.6 530.1h0M1030.6 532.7h0M1004.8 531.1h0M935.8 547.3h0M935.8 549.9h0M935.8 552.5h0M937.4 533h0M967.8 541.1h0M1011.5 528.2h0M964.2 538.8h0M964.2 544h0M915.1 553.9h0M1050 561.1h0M1050 563.7h0M908 552.1h0M911.6 554.3h0M1048.8 520.1h0M1031.4 540.2h0M1022.9 535.6h0M1033.3 538.2h0M931.5 551.9h0M920.1 562.5h0M1049.2 524.9h0M1049.2 527.5h0M1011.2 531.3h0M1044.1 556.8h0M1044.1 559.4h0M936.9 527.6h0M900 539.1h0M900 541.7h0M900 544.3h0M977.3 535.4h0M942.2 526.6h0M942.2 531.8h0M889.1 524.4h0M889.1 527h0M1052.8 552.4h0M990.7 542.8h0M990.7 545.4h0M922.7 511.6h0M922.7 514.2h0M919.4 539.9h0M1015.8 527.4h0M1015.8 532.6h0M1001.5 544.9h0M937.1 547h0M937.1 549.6h0M1002.3 556.3h0M939.2 550.9h0M1049.7 568.7h0M892.5 560.6h0M950.6 569h0M991.5 548.1h0M959.3 525.3h0M1009.9 537.7h0M1009.9 540.3h0M1005.7 543h0M1005.7 548.2h0M1016.2 537h0M1016.2 539.6h0M1016.2 542.2h0M932.4 549.2h0M932.3 533.4h0M932.3 536h0M948.7 513h0M1029 552.7h0M977.7 549.7h0M977.7 552.3h0M1007.3 512.5h0M935.3 540.4h0M923.3 518.2h0M977.1 541.1h0M1035.7 552.1h0M1034.5 529.5h0M1034.5 532.1h0M888.8 528.6h0M888.8 531.2h0M888.8 533.8h0M967.6 542.8h0M955.3 561.9h0M977.9 524.3h0M977.9 526.9h0M1015.4 532.9h0M965.6 556h0M965.6 558.6h0M970.9 514.4h0M927.1 527.1h0M927.1 529.7h0M970.6 513h0M970.6 515.6h0M1048.8 546.7h0M925 566.1h0M982 549.1h0M1000.7 526.8h0M947.8 550.2h0M1039.6 525.1h0M945.5 558.9h0M945.5 561.5h0M1019.4 528.3h0M1020.9 530.1h0M1020.9 532.7h0M991.9 514.7h0M1004.6 540h0M1004.6 542.6h0M1001.1 528h0M1001.1 530.6h0M895.9 554.1h0M895.9 556.7h0M1015.1 526h0M936 553.6h0M936 556.2h0M915 554.4h0M915 557h0M1048.5 527.4h0M1048.5 530h0M924.1 519.9h0M924.1 522.5h0M1005.2 528.1h0M933.4 566.6h0M1032.4 542.4h0M951.2 528.9h0M974.6 524.4h0M971.9 515.6h0M942.6 526.8h0M942.6 529.4h0M953.3 552.1h0M953.3 554.7h0M953.3 557.3h0M1032.2 569h0M890.5 528.8h0M910.8 518.8h0M1050.7 560.2h0M1050.7 565.4h0M1050.5 512.8h0M1050.5 515.4h0M892.7 528.7h0M934.5 563.1h0M934.5 565.7h0M934.5 568.3h0M895 558.5h0M890.2 528.4h0M999.7 546.3h0M999.7 548.9h0M999.7 551.5h0M971.6 545.1h0M971.6 547.7h0M971.6 550.3h0M942.5 537.7h0M929.5 537h0M929.5 539.6h0M929.5 542.2h0M930.1 539.7h0M1007.2 517.9h0M923.2 562.2h0M975.8 533.1h0M1004.4 547.6h0M991 531.5h0M1053.7 555.3h0M1053.7 557.9h0M1020.6 550.3h0M968.9 544.2h0M957.2 536.1h0M957.2 538.7h0M902.8 522.1h0M1043.7 528.6h0M1023.3 545.8h0M896.9 558.8h0M899.1 567.6h0M1013.8 559.4h0M982.4 518.9h0M1031.6 528.8h0M1038.6 524.8h0M1039.6 543.5h0M952.6 546.9h0M952.6 552.1h0M988.8 549.5h0M973.7 549.7h0M973.7 552.3h0M1048.5 563.9h0M935.2 567.5h0M1043.8 560.7h0M1043.8 563.3h0M942.1 554.8h0M1009.1 518.2h0M1009.1 520.8h0M923.5 559.6h0M1026.3 535.6h0M1054.9 547.3h0M976.1 529h0M980.1 554.3h0M1052.2 537.3h0M1052.2 542.5h0M913 539.9h0M913 542.5h0M913 545.1h0M957.9 567.7h0M957.9 570.3h0M1044.5 512.5h0M925.9 546.1h0M1028.2 553.6h0M935.6 562.6h0M1009.2 524.2h0M895.3 526.3h0M1047.7 551.9h0M1047.7 557.1h0M992.2 557.2h0M992.2 562.4h0M1039.6 565.3h0M1039.6 567.9h0M1039.6 570.5h0M895.5 544.8h0M957.9 541.8h0M953 568.7h0M1011.2 558.7h0M902 532h0M902 534.6h0M976.8 527h0M909.7 552.2h0M909.7 554.8h0M1011.5 517.2h0M945.4 533.7h0M945.4 536.3h0M1000.4 536.3h0M1004 537.3h0M989.5 536.4h0M989.5 541.6h0M916.7 552.5h0M916.7 555.1h0M958.9 551.4h0M958.9 554h0M988.2 568.5h0M988.2 571.1h0M1019.3 533.7h0M1019.3 536.3h0M978.2 543.7h0M978.2 546.3h0M978.2 548.9h0M949.4 565.9h0M949.4 568.5h0M949.4 571.1h0M1000.8 534.9h0M1000.8 540.1h0M965.7 536.1h0M927.7 522.3h0M927.7 524.9h0M1048 533.3h0M1054.1 524.6h0M1019.4 540h0M933.8 509.1h0M1022.8 542.7h0M1022.8 547.9h0M971.5 538h0M939 516.7h0M1039.3 563.3h0M1039.3 565.9h0M977.1 565.5h0M1024.1 515.3h0M1024.1 517.9h0M920.3 549.5h0M920.3 552.1h0M937.9 525.2h0M891.6 544.8h0M965.3 558.1h0M965.3 560.7h0M965.3 563.3h0M980.8 545h0M1000.2 521.9h0M1049.5 533.1h0M958.2 526.6h0M958.2 529.2h0M922 530.5h0M1005.2 525h0M969.3 531h0M979.7 535.5h0M1011.6 514.2h0M1011.6 519.4h0M889.9 567.5h0M896.5 537h0M896.5 539.6h0M911.3 509.5h0M907.6 534h0M907.6 536.6h0M907.6 539.2h0M941 546.6h0M955.4 554.8h0M955.4 557.4h0M1013.7 540.8h0M1003.8 523.8h0M1003.8 526.4h0M904 536.6h0M904 539.2h0M908.2 547.2h0M1051.5 540.8h0M976.4 527.4h0M989.1 549.8h0M980.1 515.3h0M973.9 545.8h0M1006.8 519.1h0M1006.8 524.3h0M936.1 538.2h0M907.6 568.6h0M907.6 571.2h0M907.6 573.8h0M1014 525.2h0M1051 563h0M1051 565.6h0M1002.3 539.2h0M966.6 555.8h0M966.6 558.4h0M1032.3 525.1h0M1019.6 561.5h0M958.9 532.7h0M958.9 535.3h0M984.9 531.2h0M974.1 524.7h0M982.8 519.7h0M958.5 566.6h0M958.5 569.2h0M922 528h0M922 530.6h0M922 533.2h0M961.1 554h0M961.1 556.6h0M895.3 548h0M895.3 553.2h0M1053.9 530.8h0M926.7 543h0M926.7 545.6h0M926.7 548.2h0M985 524.3h0M985 526.9h0M1026.6 512.5h0M1026.6 515.1h0M1026.6 517.7h0M931.2 542h0M955.3 568.3h0M955.3 570.9h0M1018.6 531.1h0M1018.6 533.7h0M1018.6 536.3h0M1054.2 556.9h0M1054.2 559.5h0M1054.2 562.1h0M1048.9 532.5h0M1048.9 535.1h0M1048.9 537.7h0M892 534.3h0M942.3 546.9h0M935.9 560.1h0M973.3 531.4h0M1017.5 536.7h0M1017.5 539.3h0M1053.1 543.9h0M942.2 567.4h0M915.1 537.8h0M1017.5 554.4h0M965.4 560.7h0M965.4 563.3h0M918 552.5h0M918 555.1h0M929.9 538.6h0M929.9 541.2h0M952.8 528.3h0M909 567h0M905 535.3h0M1009.9 538.6h0M1055.3 510.3h0M1055.3 512.9h0M936.8 560.4h0M929.3 516.7h0" stroke="#5f141b" stroke-width="2.6" stroke-linecap="round" fill="none"/>
<path d="M1046.4 544h0M982.5 535.4h0M904.9 539.9h0M926.5 532.2h0M926.5 534.8h0M1001.5 545.6h0M1042.9 541.7h0M974.1 539h0M1039.1 551.1h0M1039.1 556.3h0M1027.4 528.9h0M1027.4 531.5h0M1027.4 534.1h0M918.1 555h0M892 523.9h0M964.5 543.1h0M1042.9 548.6h0M951.9 522.1h0M945.9 527.5h0M970.5 552h0M997.9 524.3h0M944 539.7h0M944 542.3h0M1003.4 524.4h0M936.6 540.9h0M936.6 543.5h0M1002.9 564.7h0M906.7 571.9h0M966.4 549.6h0M974.5 524.4h0M974.5 527h0M988.1 535.9h0M953.7 544.6h0M905.6 534.5h0M1008.9 522.1h0M905.6 538.9h0M942 556.2h0M921.1 540.1h0M1020.5 549.5h0M978.9 527.1h0M950.6 535.5h0M1024.8 544.9h0M971.9 549.2h0M1050.6 571.6h0M1054.8 516.9h0M967.4 558.3h0M986.7 546.8h0M981.4 513.2h0M981.4 515.8h0M1044.3 561.2h0M939.4 527.6h0M903.6 568.2h0M903.6 570.8h0M925.8 522.8h0M1012.4 536h0M891.4 548.4h0M1023.3 547.2h0M1030.6 550h0M1031.5 550.2h0M927.1 552.8h0M927.1 558h0M923 551.3h0M923 553.9h0M917.3 544.3h0M920.9 566.3h0M997.3 532.5h0M992.1 545.6h0M958.7 550.1h0M964.6 541.8h0M964.6 544.4h0M969.6 525.1h0M969.6 527.7h0M972.9 539.2h0M990.4 549.7h0M921.8 551.1h0M1004.8 525.9h0M1004.8 528.5h0M937.4 535.6h0M967.8 543.7h0M1043 525h0M964.2 541.4h0M915.1 551.3h0M911.6 549.1h0M911.6 551.7h0M1010.5 541.8h0M1055.7 525.6h0M987.8 540.9h0M920.1 559.9h0M963.6 529.8h0M1044.1 562h0M936.9 525h0M942.2 529.2h0M922.7 516.8h0M1015.8 530h0M939.2 548.3h0M1009 568.7h0M1022.7 541.1h0M892.5 558h0M991.5 545.5h0M991.5 550.7h0M1005.7 545.6h0M1005.1 544.6h0M1005.1 547.2h0M981.3 555.1h0M935.3 537.8h0M935.3 543h0M977.1 543.7h0M1035.7 554.7h0M1035.7 557.3h0M964.9 527.8h0M905.6 546.4h0M927.1 532.3h0M995.3 545.1h0M1030.7 565.7h0M1030.7 568.3h0M1018.7 522.4h0M1032.2 522.5h0M953.5 538.7h0M929.4 534.9h0M1039.6 527.7h0M1020.9 535.3h0M1004.6 545.2h0M1001.1 533.2h0M973.3 540.3h0M908.7 542.5h0M930 525.1h0M930 527.7h0M924.1 525.1h0M933.4 564h0M1032.4 539.8h0M951.2 531.5h0M1005.6 547.4h0M974.6 521.8h0M900.8 545.9h0M919.5 525.3h0M919.5 527.9h0M942.6 524.2h0M921 562.5h0M921 565.1h0M910.8 521.4h0M1050.7 562.8h0M1050.5 510.2h0M1009.8 540.5h0M1040.2 549h0M923.8 548.8h0M890.2 531h0M1018.5 511h0M1007.2 515.3h0M965.5 539.4h0M923.2 564.8h0M923.2 567.4h0M975.8 535.7h0M975.8 538.3h0M1053.7 552.7h0M968.9 546.8h0M968.9 549.4h0M993.8 533.1h0M902.8 524.7h0M896.9 561.4h0M896.9 564h0M917.1 556.4h0M982.4 521.5h0M1025.5 539.4h0M902.3 538.8h0M1039.6 546.1h0M1039.6 548.7h0M976.6 562.6h0M952.6 549.5h0M988.8 546.9h0M946.1 540.4h0M935.2 570.1h0M1039.3 528.9h0M1009.1 523.4h0M1054.9 542.1h0M1054.9 544.7h0M976.1 531.6h0M980.1 556.9h0M1052.2 539.9h0M1044.5 515.1h0M1028.2 551h0M935.6 565.2h0M935.6 567.8h0M1047.7 554.5h0M992.2 559.8h0M942.7 550h0M957.9 539.2h0M953 566.1h0M1011.5 514.6h0M1011.5 519.8h0M894.2 530.9h0M1000.4 533.7h0M989.5 539h0M958.9 556.6h0M988.2 573.7h0M1006.5 509.5h0M1006.5 512.1h0M1010.4 552.1h0M1000.8 537.5h0M965.7 533.5h0M980.1 526h0M1022.5 566.3h0M935.6 558.2h0M1048 535.9h0M1022.8 545.3h0M1039.3 560.7h0M1039.4 514.9h0M1039.4 517.5h0M1024.1 512.7h0M920.3 554.7h0M980.8 547.6h0M980.8 550.2h0M1049.5 535.7h0M1049.5 538.3h0M975.5 538.5h0M920 568.7h0M922 527.9h0M922 533.1h0M964.7 540.4h0M979.7 538.1h0M1011.6 516.8h0M889.9 570.1h0M1005.4 534.5h0M970.1 527.9h0M1007.7 524.6h0M905.6 566.9h0M1013.7 538.2h0M908.2 544.6h0M976.4 530h0M976.4 532.6h0M1052.3 552.3h0M1006.8 521.7h0M993.2 555h0M1051 560.4h0M1002.3 541.8h0M1002.3 544.4h0M939.5 542.4h0M975.2 510.3h0M1007.4 528h0M1007.4 530.6h0M895.3 550.6h0M955.3 573.5h0M897.1 526.1h0M892 531.7h0M892 536.9h0M1017.5 534.1h0M904.8 535.4h0M949.7 530.4h0M965.4 558.1h0M1025.4 566.7h0" stroke="#8c2028" stroke-width="2.0" stroke-linecap="round" fill="none"/>
<path d="M958.6 568.8h0M1035.8 545.2h0M1009.3 517.2h0M930.5 528.1h0M1028.4 543.2h0M1055.2 557.3h0M962.2 545.2h0M915.6 539.7h0M1015.5 516.7h0M948.3 561.7h0M953.1 520.4h0M980.7 530.8h0M1025.2 540.9h0M942 559.5h0M931.4 523.6h0M903.5 531.5h0M919.3 558.7h0M962.9 515.7h0M1001.3 536.5h0M970.4 536.8h0M924.1 542.3h0M1014 515.9h0M1025.7 549.3h0M888.7 539h0M1001.1 529.4h0M916.8 518h0M905.1 530.1h0M958.9 550.1h0M898.7 559.2h0M1053.3 542.7h0M894.6 552.7h0M1030.4 522.7h0M908 544.3h0M906.7 532.8h0M1027.1 524.7h0M967.1 567.5h0M1046.4 566.2h0M931.5 516.2h0M1013.4 523.2h0M975.1 523.2h0M967.5 522h0M957.9 544.6h0M927.4 521.1h0M926 529.3h0M910.3 565.4h0M948.7 549h0M895.7 532.3h0M1040.1 517.8h0M947.7 538.7h0M923 550.9h0M1049 551.1h0M1025.5 522.7h0M931.8 555.6h0M908.8 532.2h0M936.5 568.1h0M988.3 553.4h0M941.7 535.1h0M892.5 564.3h0M1041.4 523.8h0M964 519.9h0M973.8 556.1h0M992 527.2h0M947.4 515.1h0M1039 522.7h0M943.5 542.6h0M959.3 546.3h0M893.5 516.5h0M911.3 549.3h0M996.2 519h0M889.7 562.1h0M1035.6 562.3h0M897 539.7h0M1036.7 562h0M956.8 545.5h0M927.1 565.4h0M1050.1 566h0M1028.1 553h0M1039.3 519.3h0M913.6 545.2h0M996 534h0M963.1 539.7h0M988 522.9h0M976.1 525.8h0M1000.8 537.8h0M952.4 547.1h0M1029.5 555.1h0M897.8 539.4h0M936.5 559.7h0M975.4 521h0M900.6 567.8h0M1000.5 546.9h0M988.7 534.6h0M1005.9 527.4h0M896.5 562.3h0M974.4 569.3h0M985.1 528.5h0M925.3 546.2h0M967.1 562.4h0M1019.1 541.6h0M998.1 527.7h0M934.9 520.3h0M985 542.1h0M991.6 520.9h0M1054.1 526h0M975.7 542.3h0M1005.1 532.4h0M952.4 518.6h0M961.8 545.3h0M945.9 549.5h0M904.8 543.2h0M1014.8 518.3h0M1025.5 566.9h0M1019.3 535.6h0M987.7 554.6h0M994.3 515.3h0M960.3 524.1h0M958.4 526.8h0M1041.9 516.3h0M957 524.9h0M953.3 534.5h0M934.5 558.9h0M932.4 535.5h0M905.2 567.9h0M1040.4 528.2h0M1018 534.3h0M922.7 535h0M972 535.5h0M923.9 516.6h0M1030.6 556.8h0M907.7 515.5h0M924.8 562.1h0M1042.2 564.2h0M924.2 518.6h0M921.3 565.1h0M951 565.1h0M1022.1 529.8h0M961.9 552.4h0M915.1 535.3h0M948.8 568.8h0M1024.3 514.7h0M1048.8 567h0M1049.3 540.7h0M899.4 541.2h0M993.3 556h0M1014 561.2h0M932.6 560.8h0M975.9 536.6h0M999.1 530h0M897.2 568.5h0M946.7 549.3h0M983.3 568.8h0M957.3 547h0M970.4 564.5h0M1043.4 563.2h0M1010.9 533h0M1025.3 524.4h0M920.1 535.7h0M905.3 520.2h0M910.4 552.4h0M944.5 551.7h0M919.4 548.6h0M898.3 548.1h0M1002.2 545.6h0M890.5 562.3h0M1017.4 517.8h0M1038.4 526h0M929.8 565.9h0M1008 525.3h0M1028.6 549.1h0M925.6 524.9h0M1041 559h0M1002.8 550.7h0M1044.6 553.8h0M960.9 523.9h0M911.8 538.3h0M1020.3 519.4h0M992 543.2h0M1028.9 542.3h0M928.3 555.4h0M983.3 543.7h0M914.7 545.9h0M1053.4 543.5h0M945.2 523.7h0M947.1 531.1h0M984.8 519.5h0M1000.9 559h0M954.9 526.2h0M988.5 558.6h0M925.1 554.7h0M963.5 516.8h0M997.1 559.8h0M1047.5 537.7h0M1018.8 532.5h0M996.3 518.5h0M1039.1 548.1h0M953.6 537.5h0M1013 556.4h0M971.2 562.4h0M901.4 560.3h0M1000.7 565.3h0M975.9 535h0M995.6 565.2h0M1052.2 523.3h0M988 542.4h0M965.4 528.5h0M1036.3 530.3h0M984.5 566.7h0M930.3 531.3h0M1045.5 535.9h0M1049.2 557.4h0M1033.3 545.2h0M925 525.4h0M1050.6 530.7h0M1002.3 563.8h0M936.7 569h0M980.8 562.3h0M1037.7 524.3h0M1018.3 530.7h0M974.3 555.6h0M908.4 527.4h0M1044.3 563.3h0M992.2 530h0M972.2 525.3h0M1018.9 524.9h0M906 527h0M988.8 551.6h0M927.3 568.4h0M1028.3 561.7h0M1048.6 521.3h0M1008.2 537.7h0M945.6 542h0M1015.1 538.3h0M959.5 539.5h0M932.3 561.8h0M1012.9 526.4h0M993.5 535.8h0M991.8 560.6h0M910.7 546.9h0M901.3 523.9h0M909 551.5h0M1019.1 516.6h0M964.2 563.9h0M952.7 539.4h0M1034.4 533.1h0M973.4 557.9h0M1024.2 542.1h0M991.5 537h0M1015.2 536.7h0M926.3 565.8h0M956.4 517.8h0M953.6 517.9h0M923 546.1h0M1050.3 545.7h0M1043.7 540.3h0M982.4 519.4h0M1029.1 538.5h0M1013.9 552.9h0M951.5 545.7h0M920.3 532.6h0M922.5 533.2h0M936 556.2h0M1008 516.6h0M1022.1 548h0M983.3 538.2h0M917.5 525.5h0M942.4 515.1h0M919.2 536.2h0M1051.4 521.5h0M964.5 527.4h0M915.8 537h0M969.6 563.7h0M1025.4 521.1h0M1012 535.6h0M1022.2 531.3h0M1015.7 531.7h0M1000.6 528h0M954.3 527.8h0M929.9 565.3h0M911.1 522.1h0M956.1 536h0M965.5 524.6h0M952.2 555.2h0M1017.7 532.3h0M916.2 560h0M922.7 527h0M1024.4 534.9h0M921.7 543.5h0M949.7 518.5h0M918.5 555.2h0M1026.4 554.7h0M918.9 545.7h0M945.3 531.5h0M985.8 567h0M1032.9 522h0M996.1 560.6h0M1034.5 544.5h0M1014.3 549h0M1016.6 560.6h0M947.1 550.3h0M930.7 567h0M989.4 557.9h0M964.5 528.1h0M899.8 523.9h0M1019.5 515.1h0M963.9 555h0M936.6 523.1h0M953.7 521.1h0M1030.5 557h0M981.2 547.4h0M945.3 531.5h0M992.3 557.4h0M1019.5 533.2h0M946.1 551.3h0M945.3 521.1h0M976.9 543.2h0M984.3 542.1h0M944.8 515.6h0M1004.9 519.4h0M917.5 532.2h0M900 536.8h0M983.7 563.9h0M899 531.8h0M1012.5 523h0M967.2 547.6h0M1027.5 561.7h0M957.3 551.9h0M1016.1 515.1h0M900.3 523.9h0M1012.7 552.9h0M1001.9 555.5h0M989.1 528.2h0M909.1 550.9h0M974.2 521h0M1029.3 555h0M977.3 546.4h0M997.8 536.3h0M927.5 538.4h0M933.6 541.6h0M1013.3 540.1h0M993.4 546.4h0M971.9 546.3h0M934.9 558h0M896 562.3h0M957 523.2h0" stroke="#0b0806" stroke-width="2.2" stroke-linecap="round" fill="none"/>
<path d="M87.6 43.65V572.75" stroke="#231815" stroke-width="2.6" fill="none"/>
<path d="M86.3 44.9H1059.7" stroke="#231815" stroke-width="2.6" fill="none"/>
<path d="M86.3 571.5H1059.7" stroke="#231815" stroke-width="2.6" fill="none"/>
<path d="M1058.7 44.9V571.5" stroke="#231815" stroke-width="2.2" fill="none"/>
<path d="M87.6 536.8h11.5M87.6 501.6h11.5M87.6 466.4h11.5M87.6 431.2h11.5M87.6 396.0h11.5M87.6 360.8h11.5M87.6 325.6h11.5M87.6 290.4h11.5M87.6 255.2h11.5M87.6 220.0h11.5M87.6 184.8h11.5M87.6 149.6h11.5M87.6 114.4h11.5M87.6 79.2h11.5" stroke="#231815" stroke-width="2.5" fill="none"/>
<text x="72.9" y="577.9" text-anchor="end" font-size="24.7">0</text>
<text x="72.9" y="542.7" text-anchor="end" font-size="24.7">2</text>
<text x="72.9" y="507.5" text-anchor="end" font-size="24.7">4</text>
<text x="72.9" y="472.3" text-anchor="end" font-size="24.7">6</text>
<text x="72.9" y="437.1" text-anchor="end" font-size="24.7">8</text>
<text x="75.6" y="401.9" text-anchor="end" font-size="24.7">10</text>
<text x="75.6" y="366.7" text-anchor="end" font-size="24.7">12</text>
<text x="75.6" y="331.5" text-anchor="end" font-size="24.7">14</text>
<text x="75.6" y="296.3" text-anchor="end" font-size="24.7">16</text>
<text x="75.6" y="261.1" text-anchor="end" font-size="24.7">18</text>
<text x="75.6" y="225.9" text-anchor="end" font-size="24.7">20</text>
<text x="75.6" y="190.7" text-anchor="end" font-size="24.7">22</text>
<text x="75.6" y="155.5" text-anchor="end" font-size="24.7">24</text>
<text x="75.6" y="120.3" text-anchor="end" font-size="24.7">26</text>
<text x="75.6" y="85.1" text-anchor="end" font-size="24.7">28</text>
<text x="75.6" y="49.9" text-anchor="end" font-size="24.7">30</text>
<text transform="translate(138.4 602.8) scale(0.943 1)" text-anchor="middle" font-size="24.7">12:00:00</text>
<text transform="translate(243 602.8) scale(0.943 1)" text-anchor="middle" font-size="24.7">18:00:00</text>
<text transform="translate(347.5 602.8) scale(0.943 1)" text-anchor="middle" font-size="24.7">00:00:00</text>
<text transform="translate(452.5 602.8) scale(0.943 1)" text-anchor="middle" font-size="24.7">06:00:00</text>
<text transform="translate(558.6 602.8) scale(0.943 1)" text-anchor="middle" font-size="24.7">12:00:00</text>
<text transform="translate(662.9 602.8) scale(0.943 1)" text-anchor="middle" font-size="24.7">18:00:00</text>
<text transform="translate(767.3 602.8) scale(0.943 1)" text-anchor="middle" font-size="24.7">00:00:00</text>
<text transform="translate(873 602.8) scale(0.943 1)" text-anchor="middle" font-size="24.7">16:00:00</text>
<text transform="translate(978 602.8) scale(0.943 1)" text-anchor="middle" font-size="24.7">12:00:00</text>
<text x="144.5" y="632.4" text-anchor="middle" font-size="24.7">Apr 10</text>
<text x="355" y="632.4" text-anchor="middle" font-size="24.7">Apr 11</text>
<text x="779" y="632.4" text-anchor="middle" font-size="24.7">Apr 12</text>
<path d="M92.5 30H115.5" stroke="#b0586a" stroke-width="1.6"/><circle cx="104" cy="30" r="1.6" fill="#3a1a1a"/>
<text x="131.8" y="35.7" font-size="24.7">Potential AC Disconnected</text>
<path d="M438 30H460.5" stroke="#7fcf8a" stroke-width="1.8"/><circle cx="448.5" cy="30" r="2" fill="#111"/>
<text x="475.8" y="35.7" font-size="24.7">Potential AC Connected</text>
<path d="M127 382.1H614" stroke="#e3141c" stroke-width="7.8" fill="none"/><path d="M147.6 369.0L125.4 382.1L147.6 395.20000000000005M593.4 369.0L615.6 382.1L593.4 395.20000000000005" stroke="#e3141c" stroke-width="7.4" stroke-linecap="round" stroke-linejoin="miter" fill="none"/>
<path d="M654.3 138.0H1047" stroke="#e3141c" stroke-width="7.8" fill="none"/><path d="M674.9 124.9L652.6999999999999 138.0L674.9 151.1M1026.4 124.9L1048.6 138.0L1026.4 151.1" stroke="#e3141c" stroke-width="7.4" stroke-linecap="round" stroke-linejoin="miter" fill="none"/>
<text class="cjk" x="249" y="350.3" font-size="23.3">管道连接固态去耦合器</text>
<text class="cjk" x="722.5" y="112.3" font-size="23.3">管道不连接固态去耦合器</text>
<text class="cjk" x="514" y="672.3" font-size="35.5">时刻</text>
<g transform="translate(40.6 399.0) rotate(-90)"><text class="cjk" x="0" y="0" font-size="37.5">交流电压</text><text transform="translate(152 0.6) scale(0.88 1)" font-size="38.5">/V</text></g>
</svg>
</body></html>
